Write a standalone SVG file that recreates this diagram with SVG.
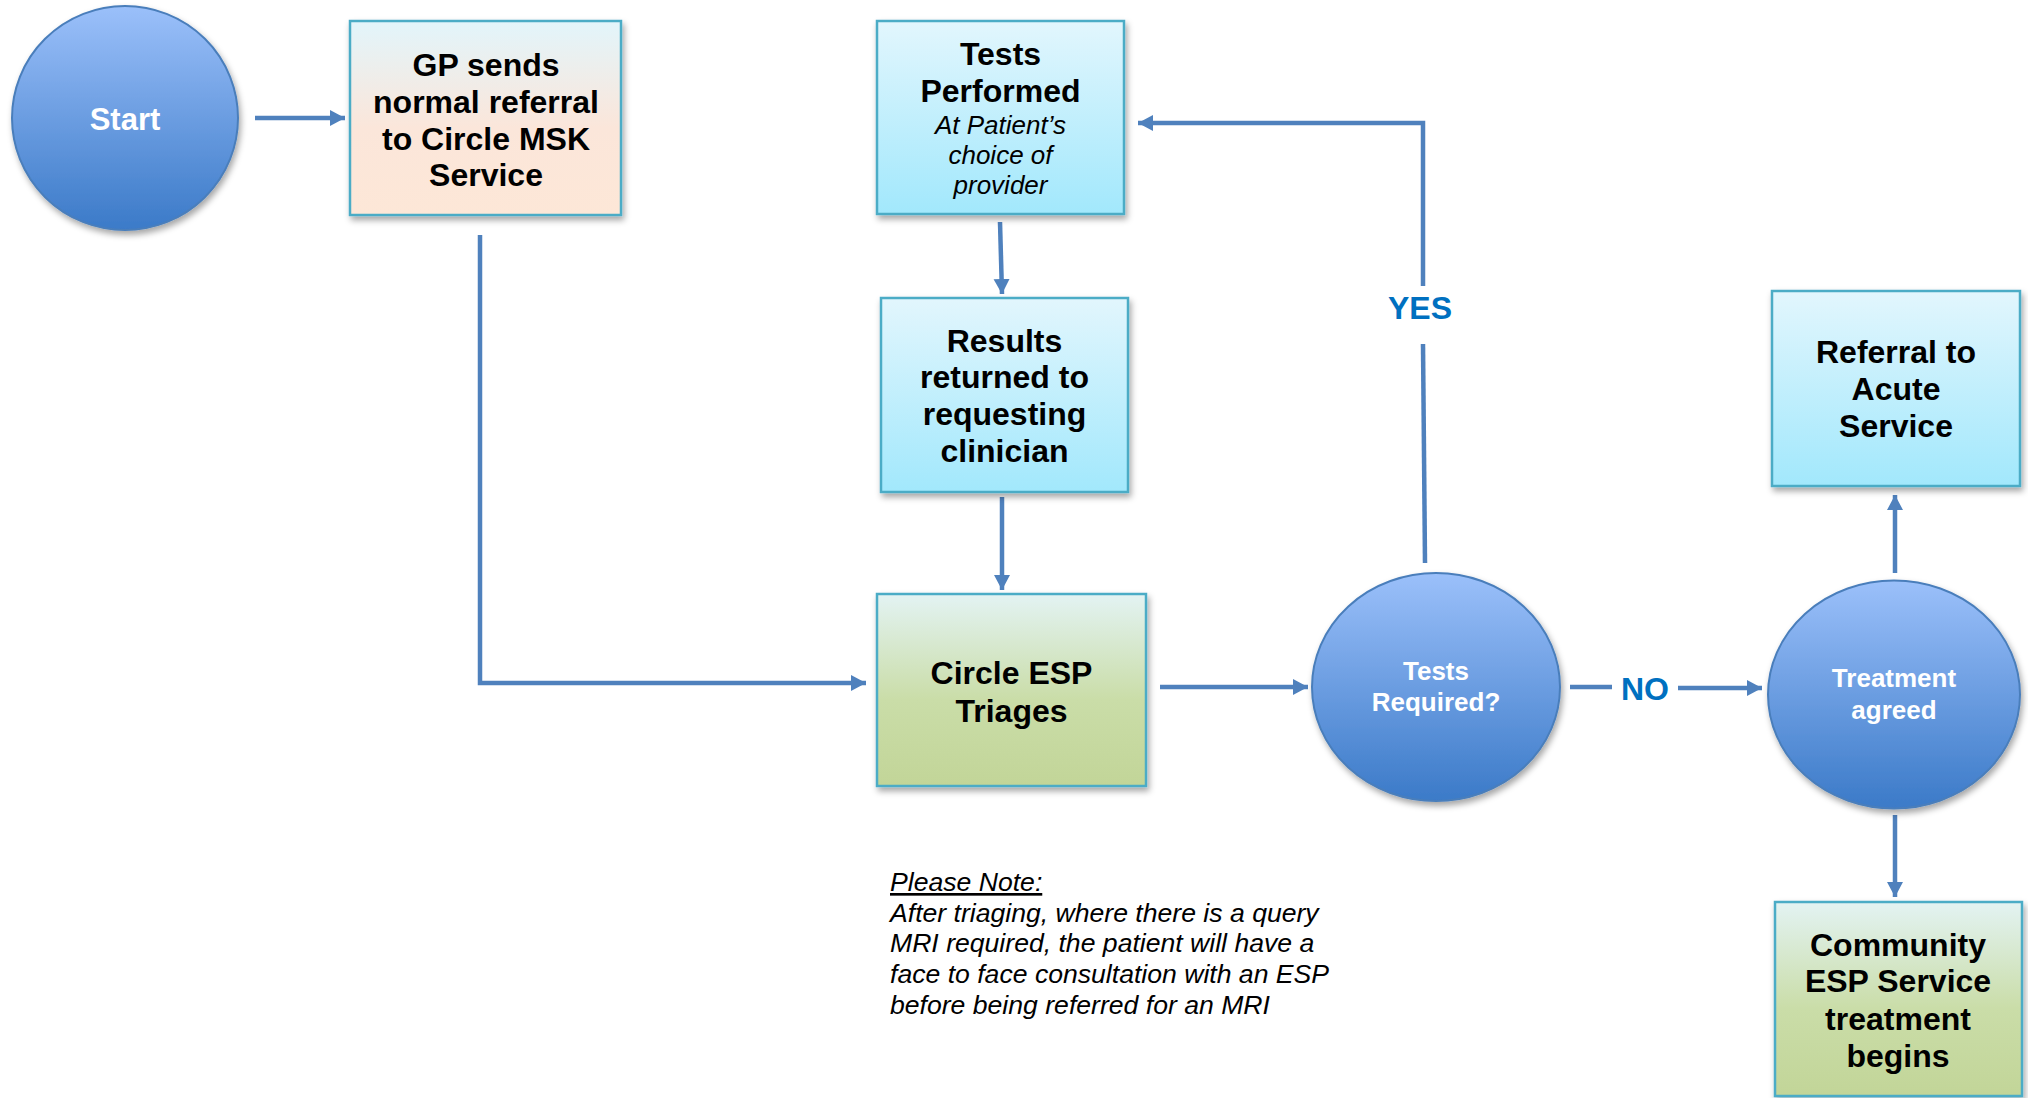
<svg xmlns="http://www.w3.org/2000/svg" width="2028" height="1098" viewBox="0 0 2028 1098">
<defs>
<linearGradient id="gCircle" x1="0" y1="0" x2="0" y2="1">
<stop offset="0" stop-color="#9bc0fa"/>
<stop offset="1" stop-color="#3b7ac8"/>
</linearGradient>
<linearGradient id="gCyan" x1="0" y1="0" x2="0" y2="1">
<stop offset="0" stop-color="#e2f6fd"/>
<stop offset="1" stop-color="#a2e8fc"/>
</linearGradient>
<linearGradient id="gPeach" x1="0" y1="0" x2="0" y2="1">
<stop offset="0" stop-color="#e2f5fb"/>
<stop offset="0.55" stop-color="#fbe6da"/>
<stop offset="1" stop-color="#fde7d7"/>
</linearGradient>
<linearGradient id="gGreen" x1="0" y1="0" x2="0" y2="1">
<stop offset="0" stop-color="#e3f3f3"/>
<stop offset="0.55" stop-color="#cadda8"/>
<stop offset="1" stop-color="#c2d598"/>
</linearGradient>
<filter id="shadow" x="-10%" y="-10%" width="125%" height="130%">
<feDropShadow dx="2" dy="4" stdDeviation="3" flood-color="#000" flood-opacity="0.35"/>
</filter>
<marker id="arrow" markerUnits="userSpaceOnUse" markerWidth="18" markerHeight="18" refX="15" refY="8" orient="auto">
<path d="M0,0 L15,8 L0,16 z" fill="#4f81bd"/>
</marker>
<style>
.box{stroke:#4bacc6;stroke-width:2.5;filter:url(#shadow)}
.circ{fill:url(#gCircle);stroke:#4a7ebb;stroke-width:2;filter:url(#shadow)}
.bt{font-family:"Liberation Sans",Arial,sans-serif;font-weight:bold;font-size:32px;fill:#000;text-anchor:middle}
.it{font-family:"Liberation Sans",Arial,sans-serif;font-style:italic;font-size:26px;fill:#000;text-anchor:middle}
.ct{font-family:"Liberation Sans",Arial,sans-serif;font-weight:bold;font-size:26px;fill:#fff;text-anchor:middle}
.lbl{font-family:"Liberation Sans",Arial,sans-serif;font-weight:bold;font-size:32px;fill:#0070c0;text-anchor:middle}
.note{font-family:"Liberation Sans",Arial,sans-serif;font-style:italic;font-size:26.6px;fill:#000}
.conn{fill:none;stroke:#4f81bd;stroke-width:4.5}
</style>
</defs>
<rect width="2028" height="1098" fill="#fff"/>

<g id="connectors">
<path class="conn" d="M255,118 L345,118" marker-end="url(#arrow)"/>
<path class="conn" d="M480,235 L480,683 L866,683" marker-end="url(#arrow)"/>
<path class="conn" d="M1000,222 L1002,294" marker-end="url(#arrow)"/>
<path class="conn" d="M1002,497 L1002,590" marker-end="url(#arrow)"/>
<path class="conn" d="M1160,687 L1308,687" marker-end="url(#arrow)"/>
<path class="conn" d="M1425,563 L1423,344"/>
<path class="conn" d="M1423,286 L1423,123 L1138,123" marker-end="url(#arrow)"/>
<path class="conn" d="M1570,687 L1612,687"/>
<path class="conn" d="M1678,688 L1762,688" marker-end="url(#arrow)"/>
<path class="conn" d="M1895,573 L1895,495" marker-end="url(#arrow)"/>
<path class="conn" d="M1895,815 L1895,897" marker-end="url(#arrow)"/>
<text class="lbl" x="1420" y="319">YES</text>
<text class="lbl" x="1645" y="700">NO</text>
</g>

<g id="start">
<ellipse class="circ" cx="125" cy="118" rx="113" ry="112"/>
<text class="ct" style="font-size:31px" x="125" y="129.5">Start</text>
</g>

<g id="gp">
<rect class="box" x="350" y="21" width="271" height="194" fill="url(#gPeach)"/>
<text class="bt" x="486" y="76">GP sends</text>
<text class="bt" x="486" y="113">normal referral</text>
<text class="bt" x="486" y="149.5">to Circle MSK</text>
<text class="bt" x="486" y="186">Service</text>
</g>

<g id="tests-performed">
<rect class="box" x="877" y="21" width="247" height="193" fill="url(#gCyan)"/>
<text class="bt" x="1000.5" y="64.5">Tests</text>
<text class="bt" x="1000.5" y="102">Performed</text>
<text class="it" x="1000.5" y="133.5">At Patient’s</text>
<text class="it" x="1000.5" y="163.5">choice of</text>
<text class="it" x="1000.5" y="194">provider</text>
</g>

<g id="results">
<rect class="box" x="881" y="298" width="247" height="194" fill="url(#gCyan)"/>
<text class="bt" x="1004.5" y="351.5">Results</text>
<text class="bt" x="1004.5" y="388">returned to</text>
<text class="bt" x="1004.5" y="425">requesting</text>
<text class="bt" x="1004.5" y="462">clinician</text>
</g>

<g id="triage">
<rect class="box" x="877" y="594" width="269" height="192" fill="url(#gGreen)"/>
<text class="bt" x="1011.5" y="684">Circle ESP</text>
<text class="bt" x="1011.5" y="721.5">Triages</text>
</g>

<g id="tests-required">
<ellipse class="circ" cx="1436" cy="687" rx="124" ry="114"/>
<text class="ct" x="1436" y="680">Tests</text>
<text class="ct" x="1436" y="711">Required?</text>
</g>

<g id="treatment">
<ellipse class="circ" cx="1894" cy="694.5" rx="126" ry="114"/>
<text class="ct" x="1894" y="687">Treatment</text>
<text class="ct" x="1894" y="719">agreed</text>
</g>

<g id="acute">
<rect class="box" x="1772" y="291" width="248" height="195" fill="url(#gCyan)"/>
<text class="bt" x="1896" y="363">Referral to</text>
<text class="bt" x="1896" y="400">Acute</text>
<text class="bt" x="1896" y="437">Service</text>
</g>

<g id="community">
<rect class="box" x="1775" y="902" width="247" height="194" fill="url(#gGreen)"/>
<text class="bt" x="1898" y="955.5">Community</text>
<text class="bt" x="1898" y="992">ESP Service</text>
<text class="bt" x="1898" y="1029.5">treatment</text>
<text class="bt" x="1898" y="1066.5">begins</text>
</g>

<g id="note">
<text class="note" x="890" y="891" text-decoration="underline">Please Note:</text>
<text class="note" x="890" y="922">After triaging, where there is a query</text>
<text class="note" x="890" y="952">MRI required, the patient will have a</text>
<text class="note" x="890" y="983">face to face consultation with an ESP</text>
<text class="note" x="890" y="1014">before being referred for an MRI</text>
</g>
</svg>
